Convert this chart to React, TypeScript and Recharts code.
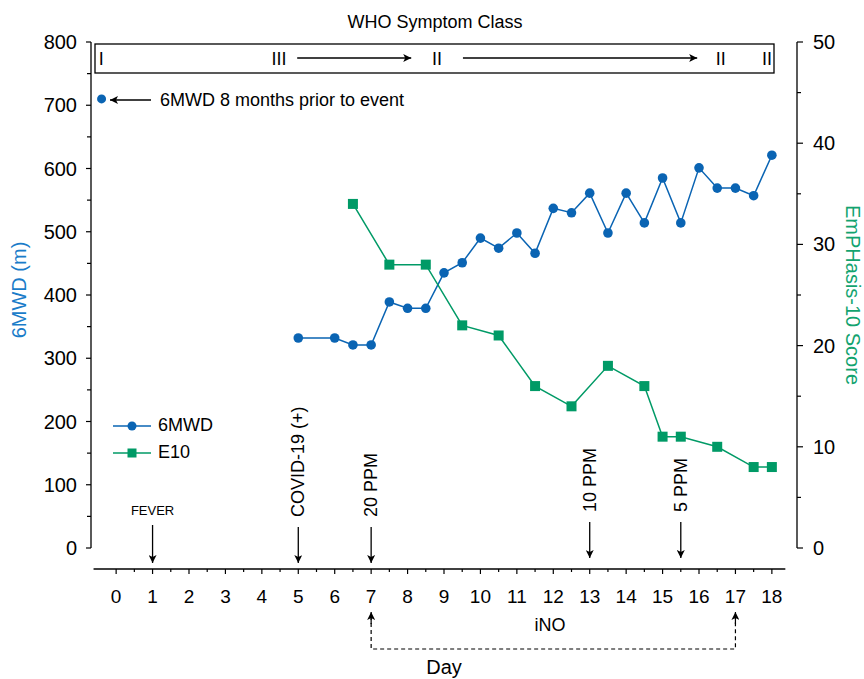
import React from "react";
import { LineChart, Line, XAxis, YAxis, Legend, ReferenceLine } from "recharts";

// 6MWD (m), left axis
const mwdDays = [5, 6, 6.5, 7, 7.5, 8, 8.5, 9, 9.5, 10, 10.5, 11, 11.5, 12, 12.5, 13, 13.5, 14, 14.5, 15, 15.5, 16, 16.5, 17, 17.5, 18];
const mwdValues = [332, 332, 321, 321, 389, 379, 379, 435, 451, 490, 474, 498, 466, 537, 530, 561, 498, 561, 514, 585, 514, 601, 569, 569, 557, 621];

// 6MWD 8 months prior to event
const priorDays = [-0.4];
const priorValues = [710];

// EmPHasis-10 score, right axis
const e10Days = [6.5, 7.5, 8.5, 9.5, 10.5, 11.5, 12.5, 13.5, 14.5, 15, 15.5, 16.5, 17.5, 18];
const e10Values = [34, 28, 28, 22, 21, 16, 14, 18, 16, 11, 11, 10, 8, 8];

const dayTicks = Array.from({ length: 37 }, (_, i) => i * 0.5);
const mwdTicks = Array.from({ length: 17 }, (_, i) => i * 50);
const e10Ticks = Array.from({ length: 11 }, (_, i) => i * 5);

const mwdData = mwdDays.map((d, i) => ({ day: d, v: mwdValues[i] }));
const priorData = priorDays.map((d, i) => ({ day: d, v: priorValues[i] }));
const e10Data = e10Days.map((d, i) => ({ day: d, v: e10Values[i] }));

const BLUE = "#0a64b3";
const GREEN = "#009a66";
const FONT = "'Liberation Sans', Arial, Helvetica, sans-serif";

// layout
const W = 864;
const H = 679;
const PLOT_L = 91;
const PLOT_R = 797;
const PLOT_T = 42;
const DAY_MIN = -0.69;
const DAY_MAX = 18.69;

// for the annotation overlay
const dx = (d: number) => PLOT_L + ((d - DAY_MIN) / (DAY_MAX - DAY_MIN)) * (PLOT_R - PLOT_L);

const XTick = (props: any) => {
  const { x, y, payload } = props;
  const v = payload.value;
  const major = Number.isInteger(v);
  return (
    <g>
      <line x1={x} x2={x} y1={y} y2={y + (major ? 5 : 3)} stroke="#000" strokeWidth={1.2} />
      {major && (
        <text x={x} y={y + 27} textAnchor="middle" dominantBaseline="central" fontSize={19} fontFamily={FONT} fill="#000">
          {v}
        </text>
      )}
    </g>
  );
};

const LeftTick = (props: any) => {
  const { x, y, payload } = props;
  const v = payload.value;
  const major = v % 100 === 0;
  return (
    <g>
      <line x1={x} x2={x - (major ? 5 : 4)} y1={y} y2={y} stroke="#000" strokeWidth={1.2} />
      {major && (
        <text x={x - 14} y={y} textAnchor="end" dominantBaseline="central" fontSize={20} fontFamily={FONT} fill="#000">
          {v}
        </text>
      )}
    </g>
  );
};

const RightTick = (props: any) => {
  const { x, y, payload } = props;
  const v = payload.value;
  const major = v % 10 === 0;
  return (
    <g>
      <line x1={x} x2={x + (major ? 6 : 4)} y1={y} y2={y} stroke="#000" strokeWidth={1.2} />
      {major && (
        <text x={x + 16} y={y} textAnchor="start" dominantBaseline="central" fontSize={20} fontFamily={FONT} fill="#000">
          {v}
        </text>
      )}
    </g>
  );
};

const LegendBox = ({ payload }: any) => (
  <div style={{ fontFamily: FONT, fontSize: 18 }}>
    {(payload || [])
      .filter((p: any) => p.type !== "none" && p.value !== "prior")
      .map((p: any) => (
        <div key={p.value} style={{ display: "flex", alignItems: "center", height: 27 }}>
          <svg width={45} height={14}>
            <line x1={0} x2={38} y1={7} y2={7} stroke={p.color} strokeWidth={1.5} />
            {p.value === "6MWD" ? (
              <circle cx={19} cy={7} r={4.5} fill={p.color} />
            ) : (
              <rect x={14.5} y={2.5} width={9} height={9} fill={p.color} />
            )}
          </svg>
          <span>{p.value}</span>
        </div>
      ))}
  </div>
);

const SquareDot = (props: any) => {
  const { cx, cy } = props;
  if (cx == null || cy == null) return null;
  return <rect x={cx - 5} y={cy - 5} width={10} height={10} fill={GREEN} />;
};

const Vtext = ({ x, y, children }: any) => (
  <text
    transform={`translate(${x},${y}) rotate(-90)`}
    textAnchor="start"
    dominantBaseline="central"
    fontSize={18}
    fontFamily={FONT}
    fill="#000"
  >
    {children}
  </text>
);

const Overlay = () => {
  const t = { fontFamily: FONT, fill: "#000" };
  return (
    <svg width={W} height={H} style={{ position: "absolute", left: 0, top: 0, pointerEvents: "none" }}>
      <defs>
        <marker id="ah" viewBox="0 0 10 10" refX="10" refY="5" markerWidth="9" markerHeight="8" markerUnits="userSpaceOnUse" orient="auto-start-reverse">
          <path d="M0,0 L10,5 L0,10 L2.5,5 z" fill="#000" />
        </marker>
      </defs>

      {/* WHO class */}
      <text x={435} y={22} textAnchor="middle" dominantBaseline="central" fontSize={18} {...t}>
        WHO Symptom Class
      </text>
      <rect x={95} y={44} width={679} height={29} fill="none" stroke="#000" strokeWidth={1.3} />
      <g fontSize={18} {...t}>
        <text x={dx(-0.41)} y={59} textAnchor="middle" dominantBaseline="central">I</text>
        <text x={dx(4.47)} y={59} textAnchor="middle" dominantBaseline="central">III</text>
        <text x={dx(8.81)} y={59} textAnchor="middle" dominantBaseline="central">II</text>
        <text x={dx(16.6)} y={59} textAnchor="middle" dominantBaseline="central">II</text>
        <text x={dx(17.87)} y={59} textAnchor="middle" dominantBaseline="central">II</text>
      </g>
      <line x1={dx(4.97)} x2={dx(8.1)} y1={58} y2={58} stroke="#000" strokeWidth={1.3} markerEnd="url(#ah)" />
      <line x1={dx(9.52)} x2={dx(15.95)} y1={58} y2={58} stroke="#000" strokeWidth={1.3} markerEnd="url(#ah)" />

      {/* prior 6MWD note */}
      <line x1={151} x2={110} y1={100} y2={100} stroke="#000" strokeWidth={1.3} markerEnd="url(#ah)" />
      <text x={160} y={100} dominantBaseline="central" fontSize={18} {...t}>
        6MWD 8 months prior to event
      </text>

      {/* events */}
      <text x={dx(1)} y={510} textAnchor="middle" dominantBaseline="central" fontSize={13} {...t}>
        FEVER
      </text>
      <line x1={dx(1)} x2={dx(1)} y1={525} y2={563} stroke="#000" strokeWidth={1.3} markerEnd="url(#ah)" />
      <Vtext x={dx(5)} y={517}>COVID-19 (+)</Vtext>
      <line x1={dx(5)} x2={dx(5)} y1={527} y2={563} stroke="#000" strokeWidth={1.3} markerEnd="url(#ah)" />
      <Vtext x={dx(7)} y={517}>20 PPM</Vtext>
      <line x1={dx(7)} x2={dx(7)} y1={527} y2={563} stroke="#000" strokeWidth={1.3} markerEnd="url(#ah)" />
      <Vtext x={dx(13)} y={512}>10 PPM</Vtext>
      <line x1={dx(13)} x2={dx(13)} y1={522} y2={558} stroke="#000" strokeWidth={1.3} markerEnd="url(#ah)" />
      <Vtext x={dx(15.5)} y={512}>5 PPM</Vtext>
      <line x1={dx(15.5)} x2={dx(15.5)} y1={522} y2={558} stroke="#000" strokeWidth={1.3} markerEnd="url(#ah)" />

      {/* iNO bracket */}
      <path
        d={`M${dx(7)},616 L${dx(7)},649 L${dx(17)},649 L${dx(17)},616`}
        fill="none"
        stroke="#000"
        strokeWidth={1.2}
        strokeDasharray="4 3"
      />
      <line x1={dx(7)} x2={dx(7)} y1={624} y2={612} stroke="#000" strokeWidth={1.2} markerEnd="url(#ah)" />
      <line x1={dx(17)} x2={dx(17)} y1={624} y2={612} stroke="#000" strokeWidth={1.2} markerEnd="url(#ah)" />
      <text x={550} y={625} textAnchor="middle" dominantBaseline="central" fontSize={18} {...t}>
        iNO
      </text>
      <text x={444} y={667} textAnchor="middle" dominantBaseline="central" fontSize={20} {...t}>
        Day
      </text>

      {/* axis titles */}
      <text transform="translate(19,290) rotate(-90)" textAnchor="middle" dominantBaseline="central" fontSize={20} fontFamily={FONT} fill="#1a7cc9">
        6MWD (m)
      </text>
      <text transform="translate(853,295) rotate(90)" textAnchor="middle" dominantBaseline="central" fontSize={20} fontFamily={FONT} fill="#13a36f">
        EmPHasis-10 Score
      </text>
    </svg>
  );
};

export default function App() {
  return (
    <div style={{ position: "absolute", left: 0, top: 0, width: W, height: H, background: "#fff", fontFamily: FONT }}>
      <LineChart width={W} height={H} margin={{ top: PLOT_T, right: 17, bottom: 70, left: 31 }}>
        <XAxis
          dataKey="day"
          type="number"
          domain={[DAY_MIN, DAY_MAX]}
          ticks={dayTicks}
          interval={0}
          allowDataOverflow
          axisLine={false}
          tickLine={false}
          tickSize={0}
          tickMargin={0}
          tick={<XTick />}
          height={40}
        />
        <YAxis
          yAxisId="left"
          orientation="left"
          type="number"
          domain={[-33.2, 800]}
          ticks={mwdTicks}
          interval={0}
          allowDataOverflow
          axisLine={false}
          tickLine={false}
          tickSize={0}
          tickMargin={0}
          tick={<LeftTick />}
          width={60}
        />
        <YAxis
          yAxisId="right"
          orientation="right"
          type="number"
          domain={[-2.075, 50]}
          ticks={e10Ticks}
          interval={0}
          allowDataOverflow
          axisLine={false}
          tickLine={false}
          tickSize={0}
          tickMargin={0}
          tick={<RightTick />}
          width={50}
        />
        {/* axis lines */}
        <ReferenceLine
          yAxisId="left"
          segment={[{ x: DAY_MIN, y: 0 }, { x: DAY_MIN, y: 800 }]}
          stroke="#000"
          strokeWidth={1.3}
          ifOverflow="visible"
        />
        <ReferenceLine
          yAxisId="right"
          segment={[{ x: DAY_MAX, y: 0 }, { x: DAY_MAX, y: 50 }]}
          stroke="#000"
          strokeWidth={1.3}
          ifOverflow="visible"
        />
        <ReferenceLine
          yAxisId="left"
          segment={[{ x: -0.62, y: -33.2 }, { x: 18.37, y: -33.2 }]}
          stroke="#000"
          strokeWidth={1.3}
          ifOverflow="visible"
        />
        <Legend
          layout="vertical"
          verticalAlign="middle"
          align="center"
          content={<LegendBox />}
          wrapperStyle={{ left: 113, top: 412, width: 160 }}
        />
        <Line
          yAxisId="left"
          data={priorData}
          dataKey="v"
          name="prior"
          legendType="none"
          stroke="none"
          dot={{ r: 4.5, fill: BLUE, stroke: "none" }}
          isAnimationActive={false}
        />
        <Line
          yAxisId="left"
          data={mwdData}
          dataKey="v"
          name="6MWD"
          type="linear"
          stroke={BLUE}
          strokeWidth={1.5}
          dot={{ r: 4.8, fill: BLUE, stroke: "none" }}
          isAnimationActive={false}
        />
        <Line
          yAxisId="right"
          data={e10Data}
          dataKey="v"
          name="E10"
          type="linear"
          stroke={GREEN}
          strokeWidth={1.5}
          dot={<SquareDot />}
          isAnimationActive={false}
        />
      </LineChart>
      <Overlay />
    </div>
  );
}
